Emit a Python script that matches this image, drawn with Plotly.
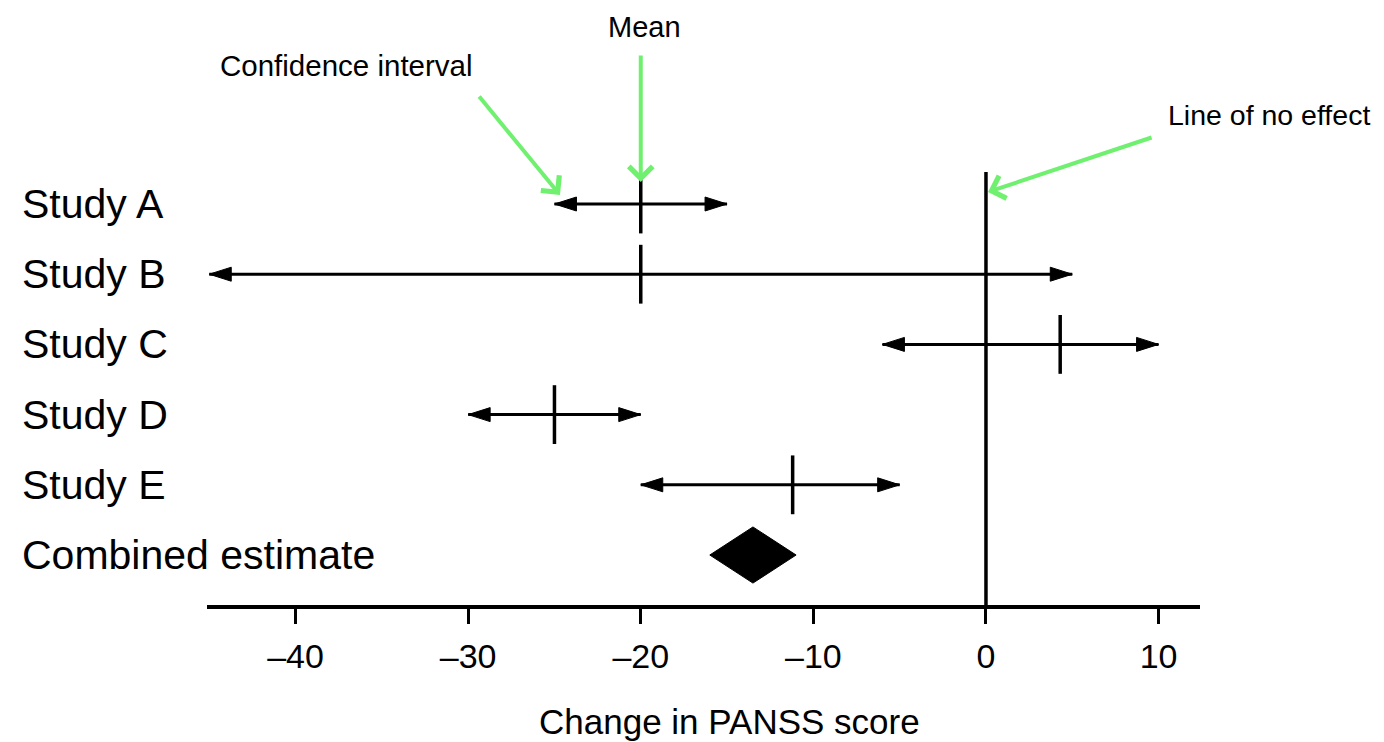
import plotly.graph_objects as go

# ---- data ----
studies = ["Study A", "Study B", "Study C", "Study D", "Study E"]
study_means = [-20, -20, 4.3, -25, -11.2]
study_lows = [-25, -45, -6, -30, -20]
study_highs = [-15, 5, 10, -20, -5]

combined_label = "Combined estimate"
combined_mean = -13.5
combined_low = -16
combined_high = -11

tick_vals = [-40, -30, -20, -10, 0, 10]
tick_text = ["–40", "–30", "–20", "–10", "0", "10"]

x_title = "Change in PANSS score"
callouts = ["Confidence interval", "Mean", "Line of no effect"]

# ---- layout helpers ----
n = len(studies)
study_rows = [n - i for i in range(n)]
combined_row = 0
row_labels = studies + [combined_label]
row_pos = study_rows + [combined_row]

FONT = "Liberation Sans, Arial, sans-serif"
GREEN = "#6FF06F"

fig = go.Figure()

# confidence interval lines
xs, ys = [], []
for lo, hi, r in zip(study_lows, study_highs, study_rows):
    xs += [lo, hi, None]
    ys += [r, r, None]
fig.add_trace(go.Scatter(x=xs, y=ys, mode="lines",
                         line=dict(color="black", width=3),
                         hoverinfo="skip", showlegend=False))

# mean ticks
fig.add_trace(go.Scatter(x=study_means, y=study_rows, mode="markers",
                         marker=dict(symbol="line-ns", size=42,
                                     line=dict(color="black", width=3.5)),
                         showlegend=False))

# combined estimate diamond
h = 0.4
fig.add_trace(go.Scatter(
    x=[combined_low, combined_mean, combined_high, combined_mean, combined_low],
    y=[combined_row, combined_row + h, combined_row, combined_row - h, combined_row],
    mode="lines", fill="toself", fillcolor="black",
    line=dict(color="black", width=1), showlegend=False))

shapes = []
# arrowheads at CI ends
for lo, hi, r in zip(study_lows, study_highs, study_rows):
    for xv, sgn in ((hi, 1), (lo, -1)):
        shapes.append(dict(
            type="path", xref="x", yref="y",
            xsizemode="pixel", ysizemode="pixel",
            xanchor=xv, yanchor=r,
            path=f"M0,0 L{-22*sgn},7 L{-22*sgn},-7 Z",
            fillcolor="black", line=dict(color="black", width=1)))

# line of no effect
shapes.append(dict(type="line", xref="x", yref="paper", x0=0, x1=0, y0=0, y1=1,
                   line=dict(color="black", width=3.5)))

annotations = []
# row labels
for lab, r in zip(row_labels, row_pos):
    annotations.append(dict(text=lab, xref="paper", yref="y", x=-0.1883, y=r,
                            xanchor="left", yanchor="middle", showarrow=False,
                            font=dict(family=FONT, size=41, color="black")))

# x-axis title
annotations.append(dict(text=x_title, xref="paper", yref="paper", x=0.526, y=-0.27,
                        xanchor="center", yanchor="middle", showarrow=False,
                        font=dict(family=FONT, size=35, color="black")))

# callout texts
annotations.append(dict(text=callouts[0], xref="paper", yref="paper", x=0.0111, y=1.247,
                        xanchor="left", yanchor="middle", showarrow=False,
                        font=dict(family=FONT, size=29.5, color="black")))
annotations.append(dict(text=callouts[1], xref="paper", yref="paper", x=0.4401, y=1.3349,
                        xanchor="center", yanchor="middle", showarrow=False,
                        font=dict(family=FONT, size=29, color="black")))
annotations.append(dict(text=callouts[2], xref="paper", yref="paper", x=0.9658, y=1.1316,
                        xanchor="left", yanchor="middle", showarrow=False,
                        font=dict(family=FONT, size=28.5, color="black")))

# green callout arrows
for tx, ty, ax, ay in ((-24.68, 5.128, -82, -100),
                       (study_means[0], 5.313, 0, -128),
                       (0.12, 5.171, 165, -55)):
    annotations.append(dict(text="", x=tx, y=ty, xref="x", yref="y",
                            ax=ax, ay=ay, showarrow=True, arrowhead=4,
                            arrowsize=1.15, arrowwidth=4, arrowcolor=GREEN,
                            standoff=0))

# page body has an 8px margin: shrink the figure by 8px and shift margins
fig.update_layout(
    width=1376, height=734,
    margin=dict(l=199, r=184, t=164, b=137),
    paper_bgcolor="white", plot_bgcolor="white",
    shapes=shapes, annotations=annotations,
    showlegend=False,
    xaxis=dict(range=[-45.13, 12.40], tickvals=tick_vals, ticktext=tick_text,
               showline=True, linecolor="black", linewidth=4,
               ticks="outside", ticklen=15, tickwidth=3, tickcolor="black",
               showgrid=False, zeroline=False, ticklabelstandoff=3,
               tickfont=dict(family=FONT, size=34, color="black")),
    yaxis=dict(range=[-0.712, 5.456], visible=False, showgrid=False, zeroline=False),
)

fig.write_html("out.html")
